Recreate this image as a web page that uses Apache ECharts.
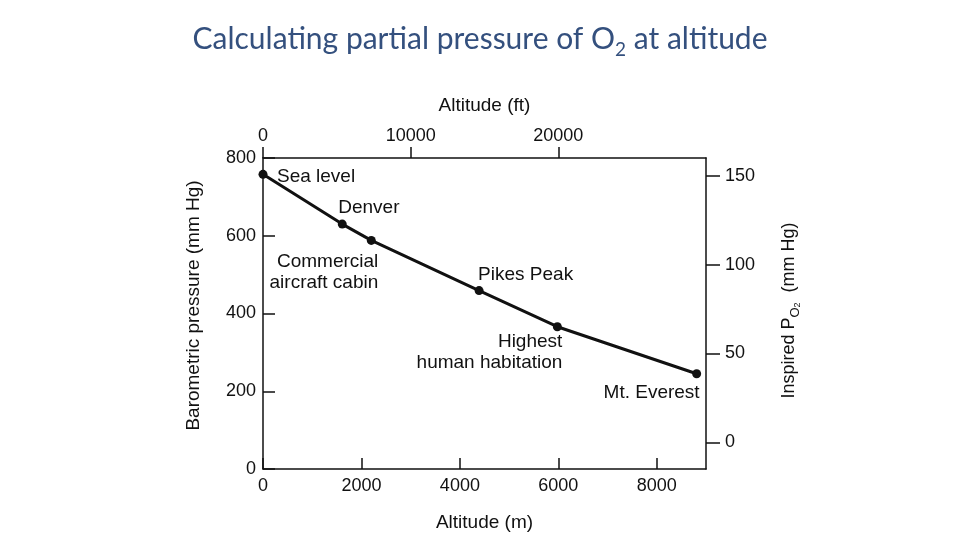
<!DOCTYPE html>
<html>
<head>
<meta charset="utf-8">
<script src="https://cdn.jsdelivr.net/npm/echarts@6/dist/echarts.min.js"></script>
<style>
html, body { margin: 0; padding: 0; background: #fff; }
#chart { width: 960px; height: 540px; }
</style>
</head>
<body>
<div id="chart"></div>
<script>
// 各地点海拔 (m) 与大气压 (mm Hg)
const altitudes = [0, 1610, 2200, 4390, 5980, 8810]
const pressures = [758, 630, 588, 459, 366, 245]
const places = ['Sea level', 'Denver', 'Commercial\naircraft cabin', 'Pikes Peak', 'Highest\nhuman habitation', 'Mt. Everest']

// 刻度
const meterTicks = [0, 2000, 4000, 6000, 8000]
const feetTicks = [0, 10000, 20000]
const pressureTicks = [0, 200, 400, 600, 800]
const inspiredTicks = [0, 50, 100, 150]

const ink = '#111'
const font = 'Liberation Sans'

// 标签摆放位置（相对于数据点）
const labelPlacement = [
  { align: 'left', offset: [14, 2] },
  { align: 'left', offset: [-4, -16] },
  { align: 'right', offset: [7, 32] },
  { align: 'left', offset: [-1, -16] },
  { align: 'right', offset: [5, 26] },
  { align: 'right', offset: [3, 19] }
]

const chart = echarts.init(document.getElementById('chart'))

const axisText = { color: ink, fontFamily: font, fontSize: 18 }
const nameText = { color: ink, fontFamily: font, fontSize: 19 }
const axisLine = { show: true, onZero: false, lineStyle: { color: ink, width: 1.5 } }
const plain = v => String(v)

const option = {
  backgroundColor: '#fff',
  animation: false,
  title: {
    text: '{t|Calculating partial pressure of O}{s|2}{t| at altitude}',
    left: 'center',
    top: 14,
    textStyle: {
      rich: {
        t: { fontFamily: 'Lato', fontWeight: 'normal', fontSize: 30, color: '#34507E', lineHeight: 40 },
        s: { fontFamily: 'Lato', fontWeight: 'normal', fontSize: 19, color: '#34507E', verticalAlign: 'bottom', lineHeight: 40 }
      }
    }
  },
  grid: { left: 263, right: 254, top: 158, bottom: 71, outerBoundsMode: 'none' },
  xAxis: [
    {
      type: 'value',
      position: 'bottom',
      min: 0,
      max: 9000,
      name: 'Altitude (m)',
      nameLocation: 'middle',
      nameGap: 44,
      nameTextStyle: nameText,
      axisLine: axisLine,
      axisTick: { show: true, inside: true, length: 11, customValues: meterTicks, lineStyle: { color: ink, width: 1.5 } },
      axisLabel: { customValues: meterTicks, margin: 8, formatter: plain, ...axisText },
      splitLine: { show: false }
    },
    {
      type: 'value',
      position: 'top',
      min: 0,
      max: 30000,
      name: 'Altitude (ft)',
      nameLocation: 'middle',
      nameGap: 43,
      nameTextStyle: nameText,
      axisLine: axisLine,
      axisTick: { show: true, inside: false, length: 11, customValues: feetTicks, lineStyle: { color: ink, width: 1.5 } },
      axisLabel: { customValues: feetTicks, margin: 13, formatter: plain, ...axisText },
      splitLine: { show: false }
    }
  ],
  yAxis: [
    {
      type: 'value',
      position: 'left',
      min: 0,
      max: 800,
      name: 'Barometric pressure (mm Hg)',
      nameLocation: 'middle',
      nameRotate: 90,
      nameGap: 60,
      nameTextStyle: { ...nameText, padding: [0, 0, 0, 16] },
      axisLine: axisLine,
      axisTick: { show: true, inside: true, length: 12, customValues: pressureTicks, lineStyle: { color: ink, width: 1.5 } },
      axisLabel: { customValues: pressureTicks, margin: 7, formatter: plain, ...axisText },
      splitLine: { show: false }
    },
    {
      type: 'value',
      position: 'right',
      min: -15,
      max: 160,
      name: '{t|Inspired P}{s|O}{ss|2}{t|  (mm Hg)}',
      nameLocation: 'middle',
      nameRotate: 90,
      nameGap: 70,
      nameTextStyle: {
        padding: [0, 0, 0, 6],
        rich: {
          t: { ...axisText, lineHeight: 26 },
          s: { ...axisText, fontSize: 13, verticalAlign: 'bottom', lineHeight: 24 },
          ss: { ...axisText, fontSize: 9, verticalAlign: 'bottom', lineHeight: 21 }
        }
      },
      axisLine: axisLine,
      axisTick: { show: true, inside: false, length: 14, customValues: inspiredTicks, lineStyle: { color: ink, width: 1.5 } },
      axisLabel: { customValues: inspiredTicks, margin: 19, formatter: plain, ...axisText },
      splitLine: { show: false }
    }
  ],
  series: [
    {
      type: 'line',
      xAxisIndex: 0,
      yAxisIndex: 0,
      symbol: 'circle',
      symbolSize: 9,
      itemStyle: { color: ink },
      lineStyle: { color: ink, width: 3 },
      label: {
        show: true,
        position: 'inside',
        verticalAlign: 'middle',
        lineHeight: 21,
        color: ink,
        fontFamily: font,
        fontSize: 19,
        formatter: p => places[p.dataIndex]
      },
      data: altitudes.map((a, i) => ({
        value: [a, pressures[i]],
        label: labelPlacement[i]
      }))
    }
  ]
}

chart.setOption(option)
</script>
</body>
</html>
